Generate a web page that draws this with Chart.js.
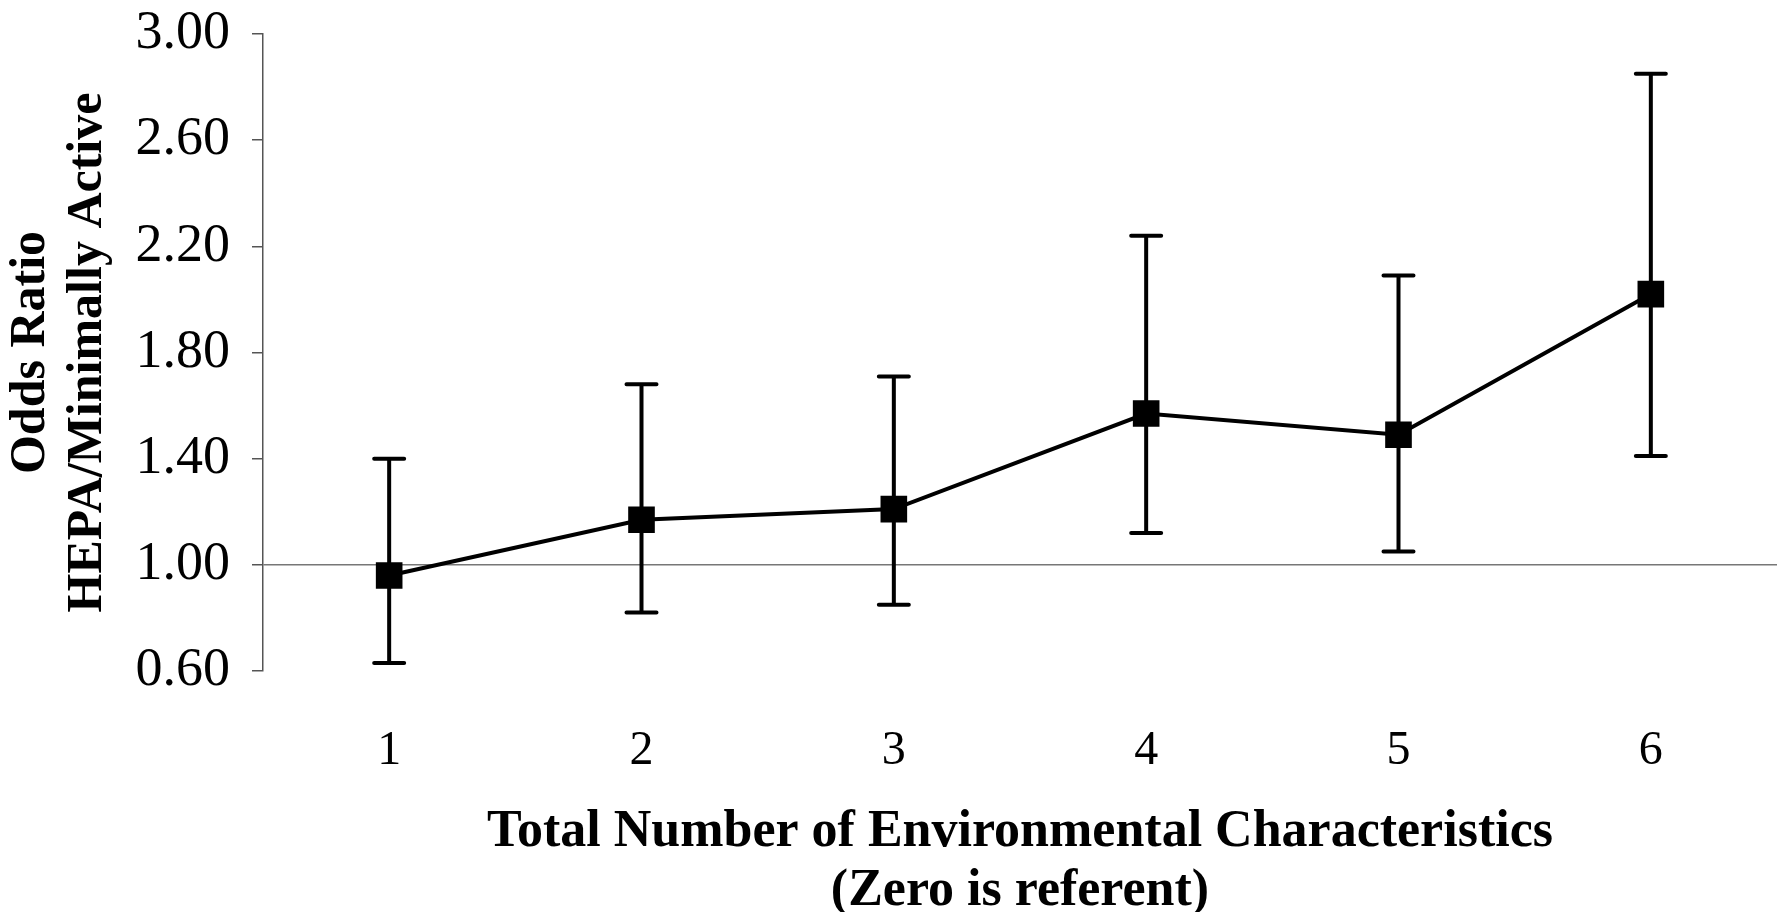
<!DOCTYPE html>
<html>
<head>
<meta charset="utf-8">
<script src="https://cdn.jsdelivr.net/npm/chart.js@4.4.0/dist/chart.umd.min.js"></script>
<style>
    body { margin: 0; background: #fff; }
    canvas { display: block; }
</style>
</head>
<body>
<canvas id="chart" width="1777" height="912"></canvas>
<script>
var categories = ['1', '2', '3', '4', '5', '6'];
var oddsRatio = [0.96, 1.17, 1.21, 1.57, 1.49, 2.02];
var upperCI = [1.40, 1.68, 1.71, 2.24, 2.09, 2.85];
var lowerCI = [0.63, 0.82, 0.85, 1.12, 1.05, 1.41];
var yTicks = [0.60, 1.00, 1.40, 1.80, 2.20, 2.60, 3.00];

var serif = '"Liberation Serif", "Times New Roman", serif';

// error bars with caps, drawn under the line and markers
var errorBars = {
    id: 'errorBars',
    beforeDatasetsDraw: function (chart) {
        var ctx = chart.ctx;
        var x = chart.scales.x;
        var y = chart.scales.y;
        ctx.save();
        ctx.strokeStyle = '#000';
        ctx.lineWidth = 4;
        ctx.lineCap = 'round';
        for (var i = 0; i < categories.length; i++) {
            var px = x.getPixelForValue(i);
            var top = y.getPixelForValue(upperCI[i]);
            var bot = y.getPixelForValue(lowerCI[i]);
            ctx.beginPath();
            ctx.moveTo(px, top);
            ctx.lineTo(px, bot);
            ctx.moveTo(px - 15, top);
            ctx.lineTo(px + 15, top);
            ctx.moveTo(px - 15, bot);
            ctx.lineTo(px + 15, bot);
            ctx.stroke();
        }
        ctx.restore();
    }
};

var ctx = document.getElementById('chart').getContext('2d');
var myChart = new Chart(ctx, {
    type: 'line',
    data: {
        labels: categories,
        datasets: [{
            data: oddsRatio,
            borderColor: '#000',
            backgroundColor: '#000',
            borderWidth: 4,
            pointStyle: 'rect',
            pointRadius: 16,
            pointHoverRadius: 16,
            fill: false,
            tension: 0
        }]
    },
    options: {
        responsive: false,
        devicePixelRatio: 1,
        animation: false,
        layout: { autoPadding: false, padding: { left: 0, right: 0, top: 34, bottom: 0 } },
        plugins: {
            legend: { display: false },
            tooltip: { enabled: false }
        },
        scales: {
            x: {
                type: 'category',
                offset: true,
                border: { display: false },
                grid: { display: false, drawTicks: false },
                ticks: {
                    color: '#000',
                    padding: 52,
                    font: { family: serif, size: 48 }
                },
                title: {
                    display: true,
                    text: ['Total Number of Environmental Characteristics', '(Zero is referent)'],
                    color: '#000',
                    padding: { top: 0, bottom: -9 },
                    font: { family: serif, size: 52, weight: 'bold', lineHeight: 1.14 }
                },
                afterFit: function (scale) { scale.height = 241; }
            },
            y: {
                min: 0.6,
                max: 3.0,
                afterBuildTicks: function (scale) {
                    scale.ticks = yTicks.map(function (v) { return { value: v }; });
                },
                border: { display: true, color: '#555', width: 1.5 },
                grid: {
                    drawOnChartArea: true,
                    color: function (c) { return c.tick && Math.abs(c.tick.value - 1) < 1e-6 ? '#777' : 'rgba(0,0,0,0)'; },
                    lineWidth: 1.5,
                    tickColor: '#555',
                    tickLength: 11
                },
                ticks: {
                    color: '#000',
                    padding: 22,
                    font: { family: serif, size: 54, lineHeight: 0.4 },
                    callback: function (v) { return Number(v).toFixed(2); }
                },
                title: {
                    display: true,
                    text: ['Odds Ratio', 'HEPA/Minimally Active'],
                    color: '#000',
                    padding: { top: 2, bottom: 0 },
                    font: { family: serif, size: 50, weight: 'bold', lineHeight: 1.15 }
                },
                afterFit: function (scale) { scale.width = 263; }
            }
        }
    },
    plugins: [errorBars]
});
</script>
</body>
</html>
